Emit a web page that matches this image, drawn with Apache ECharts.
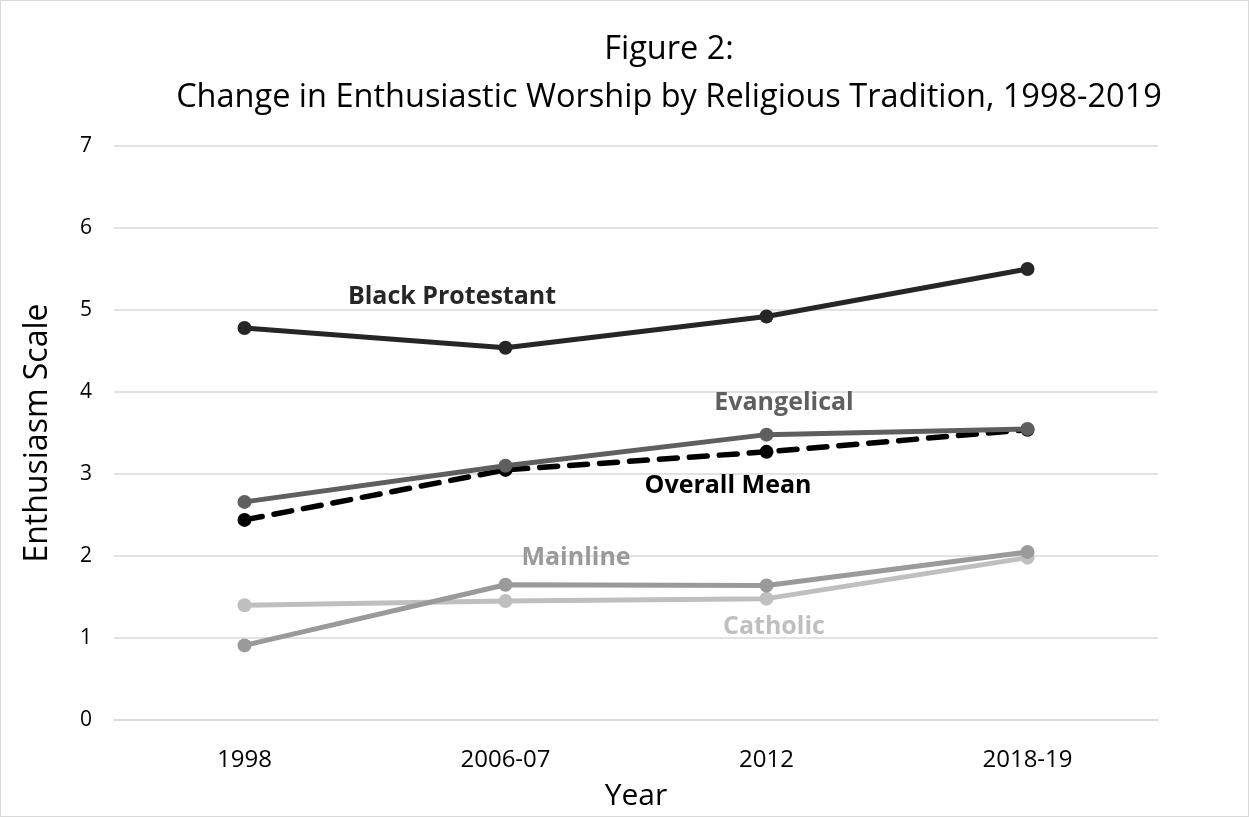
<!DOCTYPE html>
<html><head><meta charset="utf-8">
<script src="https://cdn.jsdelivr.net/npm/echarts@6/dist/echarts.min.js"></script>
<style>html,body{margin:0;padding:0;background:#fff}#c{width:1249px;height:817px;box-sizing:border-box;border:1px solid #d9d9d9}</style>
</head><body><div id="c"></div>
<script>
const categories = ['1998', '2006-07', '2012', '2018-19'];
const blackProtestant = [4.78, 4.54, 4.92, 5.50];
const evangelical = [2.66, 3.10, 3.48, 3.55];
const overallMean = [2.44, 3.05, 3.27, 3.54];
const mainline = [0.91, 1.65, 1.64, 2.05];
const catholic = [1.40, 1.45, 1.48, 1.98];
const yTicks = [0, 1, 2, 3, 4, 5, 6, 7];

const FONT = '"Open Sans", "Noto Sans", sans-serif';
function line(name, data, color, dashed, z) {
  return {
    name, type: 'line', data, z: z,
    symbol: 'circle', symbolSize: 14,
    itemStyle: { color: color },
    lineStyle: { color: color, width: dashed ? 5.5 : 5, type: dashed ? [18, 12] : 'solid', cap: dashed ? 'round' : 'butt' },
    animation: false
  };
}
function lbl(text, x, y, color) {
  return { type: 'text', x: x, y: y, z: 100, style: { text: text, fill: color, font: 'bold 25px ' + FONT, textAlign: 'center', textVerticalAlign: 'middle' } };
}
const chart = echarts.init(document.getElementById('c'));
chart.setOption({
  backgroundColor: '#fff',
  textStyle: { fontFamily: FONT },
  title: {
    text: 'Figure 2:\nChange in Enthusiastic Worship by Religious Tradition, 1998-2019',
    left: 663, top: 20, textAlign: 'center',
    textStyle: { fontFamily: FONT, fontSize: 32.5, fontWeight: 'normal', color: '#000', lineHeight: 48 }
  },
  grid: { left: 113, right: 90, top: 145, bottom: 94 },
  xAxis: {
    type: 'category', data: categories, boundaryGap: true,
    axisLine: { lineStyle: { color: '#d9d9d9', width: 1.5 } },
    axisTick: { show: false },
    axisLabel: { color: '#000', fontSize: 24, fontFamily: FONT, margin: 28 },
    name: 'Year', nameLocation: 'middle', nameGap: 61,
    nameTextStyle: { color: '#000', fontSize: 30, fontFamily: FONT }
  },
  yAxis: {
    type: 'value', min: yTicks[0], max: yTicks[yTicks.length - 1], interval: 1,
    axisLine: { show: false }, axisTick: { show: false },
    splitLine: { lineStyle: { color: '#d9d9d9', width: 1.5 } },
    axisLabel: { color: '#000', fontSize: 21, fontFamily: FONT, margin: 22 },
    name: 'Enthusiasm Scale', nameLocation: 'middle', nameGap: 60, nameRotate: 90,
    nameTextStyle: { color: '#000', fontSize: 32, fontFamily: FONT }
  },
  series: [
    line('Catholic', catholic, '#bfbfbf', false, 2),
    line('Mainline', mainline, '#9a9a9a', false, 3),
    line('Overall Mean', overallMean, '#000000', true, 4),
    line('Evangelical', evangelical, '#5f5f5f', false, 5),
    line('Black Protestant', blackProtestant, '#262626', false, 6)
  ],
  graphic: [
    lbl('Black Protestant', 451, 296, '#262626'),
    lbl('Evangelical', 783, 402, '#5f5f5f'),
    lbl('Overall Mean', 727, 485, '#000'),
    lbl('Mainline', 575, 557, '#9a9a9a'),
    lbl('Catholic', 773, 626, '#bfbfbf')
  ]
});
</script></body></html>
